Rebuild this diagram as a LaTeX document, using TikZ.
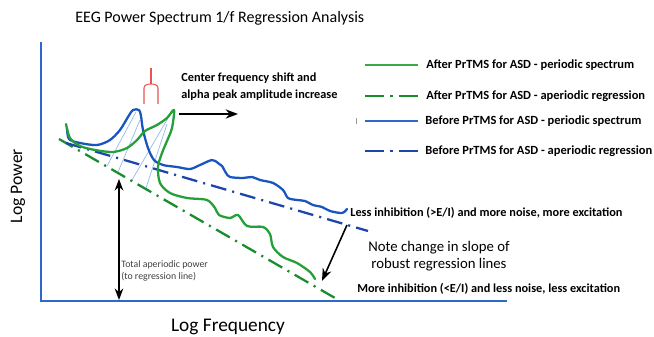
\documentclass[tikz,border=0pt]{standalone}
\usepackage{fontspec}
\setmainfont{Carlito}
\usepackage{tikz}
\usetikzlibrary{positioning, arrows.meta}

\definecolor{axisblue}{RGB}{45,105,200}
\definecolor{greenper}{RGB}{35,160,55}
\definecolor{greenreg}{RGB}{25,140,45}
\definecolor{blueper}{RGB}{25,85,190}
\definecolor{bluereg}{RGB}{30,70,170}
\definecolor{hatchblue}{RGB}{150,185,235}
\definecolor{forkred}{RGB}{230,85,85}

\begin{document}
\begin{tikzpicture}[
            x=0.02cm, y=-0.02cm,
            axis/.style={draw=axisblue, line width=1.1pt},
            periodic/.style={line width=1.3pt, line cap=round, line join=round},
            aperiodic/.style={line width=1.3pt, dash pattern=on 9pt off 3.5pt on 1.2pt off 3.5pt},
            hatch/.style={draw=hatchblue, line width=0.4pt},
            legtext/.style={font=\fontsize{7.1}{8}\selectfont\bfseries, anchor=west, inner sep=0pt},
            note/.style={font=\fontsize{7}{8.5}\selectfont\bfseries, inner sep=0pt},
            arrow/.style={-Stealth, line width=0.9pt, color=black}
        ]
            \useasboundingbox (0,0) rectangle (654,337);

            % Title and axis labels
            \node[font=\fontsize{9.1}{12}\selectfont, anchor=west, inner sep=0pt] (title) at (75,18) {EEG Power Spectrum 1/f Regression Analysis};
            \node[font=\fontsize{10}{12}\selectfont, rotate=90] (ylab) at (18,186) {Log Power};
            \node[font=\fontsize{11}{12}\selectfont] (xlab) at (228,327) {Log Frequency};

            % Axes
            \coordinate (top) at (41,42);
            \coordinate (origin) at (41,301);
            \coordinate (right) at (507,301);
            \draw[axis] (top) -- (origin) -- (right);

            % Regression lines
            \coordinate (greg1) at (59,139);
            \coordinate (greg2) at (335,298);
            \coordinate (breg1) at (66,143);
            \coordinate (breg2) at (368,231);
            \draw[aperiodic, greenreg] (greg1) -- (greg2);
            \draw[aperiodic, bluereg] (breg1) -- (breg2);

            % Peak hatching
            \draw[hatch] (136,112) -- (107,166);
            \draw[hatch] (140,120) -- (118,172);
            \draw[hatch] (171,113) -- (132,180);
            \draw[hatch] (167,124) -- (146,188);

            % Before PrTMS periodic spectrum
            \draw[periodic, blueper] plot[smooth, tension=0.5] coordinates {
                (67,128) (69,139) (80,143) (97,145) (110,140) (120,130) (128,117)
                (133,110) (139,110) (141,116) (143,130) (148,148) (154,160)
                (163,165) (177,167) (190,169) (200,165) (212,160) (218,163) (222,166)
                (226,173) (230,177) (243,178) (252,177) (260,180) (273,183) (283,190) (288,198)
                (297,200) (305,201) (313,205) (322,207) (330,211) (342,213) (347,209)};

            % After PrTMS periodic spectrum
            \draw[periodic, greenper] plot[smooth, tension=0.5] coordinates {
                (66,124) (70,138) (80,146) (95,150) (113,152) (127,148) (137,140)
                (145,131) (157,125) (167,118) (174,110) (172,128) (167,141)
                (162,153) (158,167) (160,183) (170,193) (187,198) (207,200)
                (215,208) (219,215) (230,218) (238,215) (247,226) (263,227)
                (270,234) (273,247) (283,257) (297,263) (310,272) (315,279)};

            % Alpha peak annotation
            \draw[forkred, line width=0.6pt] (151,68) -- (151,84);
            \draw[forkred, line width=0.6pt] (144,104) -- (144,88) to[out=90, in=180] (151,84)
                to[out=0, in=90] (158,88) -- (158,104);
            \node[note, align=left, anchor=north west] (shift) at (181,73) {Center frequency shift and\\[1pt]alpha peak amplitude increase};
            \coordinate (shiftstart) at (179,114);
            \coordinate (shiftend) at (238,114);
            \draw[arrow] (shiftstart) -- (shiftend);

            % Total aperiodic power
            \coordinate (powtop) at (119,179);
            \coordinate (powbot) at (119,300);
            \draw[Stealth-Stealth, line width=0.8pt] (powtop) -- (powbot);
            \node[font=\fontsize{5.6}{7}\selectfont, text=black!75, align=left, anchor=west, inner sep=0pt] (total) at (121,271) {Total aperiodic power\\(to regression line)};

            % Slope notes
            \node[note, anchor=west] (less) at (350,213) {Less inhibition (>E/I) and more noise, more excitation};
            \node[note, anchor=west] (more) at (357,289) {More inhibition (<E/I) and less noise, less excitation};
            \node[font=\fontsize{8.4}{10}\selectfont, align=center] (slope) at (439,256) {Note change in slope of\\robust regression lines};
            \coordinate (slopestart) at (347,225);
            \coordinate (slopeend) at (322,281);
            \draw[arrow] (slopestart) -- (slopeend);

            % Legend
            \coordinate (l1a) at (365,65);  \coordinate (l1b) at (418,65);
            \coordinate (l2a) at (365,96);  \coordinate (l2b) at (418,96);
            \coordinate (l3a) at (365,121); \coordinate (l3b) at (418,121);
            \coordinate (l4a) at (365,151); \coordinate (l4b) at (418,151);
            \draw[line width=1.3pt, greenper!90!white] (l1a) -- (l1b);
            \draw[line width=1.3pt, greenreg, dash pattern=on 11pt off 3.5pt on 1.3pt off 3.5pt] (l2a) -- (l2b);
            \draw[line width=1.3pt, axisblue] (l3a) -- (l3b);
            \draw[line width=1.3pt, bluereg, dash pattern=on 11pt off 3.5pt on 1.3pt off 3.5pt] (l4a) -- (l4b);
            \draw[black!40, line width=0.4pt] (356,118) -- (356,124);
            \node[legtext] (leg1) at (426,65) {After PrTMS for ASD - periodic spectrum};
            \node[legtext] (leg2) at (426,96) {After PrTMS for ASD - aperiodic regression};
            \node[legtext] (leg3) at (425,121) {Before PrTMS for ASD - periodic spectrum};
            \node[legtext] (leg4) at (425,151) {Before PrTMS for ASD - aperiodic regression};
        \end{tikzpicture}
\end{document}
